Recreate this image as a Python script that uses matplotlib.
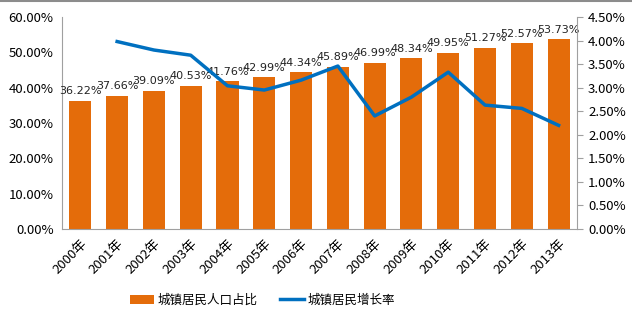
import numpy as np
import matplotlib
matplotlib.use("Agg")
import matplotlib.pyplot as plt
from matplotlib.lines import Line2D
from matplotlib.ticker import FuncFormatter

plt.rcParams['font.family'] = ['Noto Sans CJK SC', 'DejaVu Sans']

# data
years = ["2000年", "2001年", "2002年", "2003年", "2004年", "2005年", "2006年",
         "2007年", "2008年", "2009年", "2010年", "2011年", "2012年", "2013年"]
urban_share = [36.22, 37.66, 39.09, 40.53, 41.76, 42.99, 44.34,
               45.89, 46.99, 48.34, 49.95, 51.27, 52.57, 53.73]
growth_rate = [np.nan, 3.98, 3.80, 3.69, 3.04, 2.95, 3.16,
               3.46, 2.40, 2.80, 3.33, 2.63, 2.56, 2.20]

orange = "#E46C0A"
blue = "#0070C0"

fig = plt.figure(figsize=(6.32, 3.22), dpi=100)
# thin grey rule along the top edge
fig.add_artist(Line2D([0, 1], [0.997, 0.997], color="#8c8c8c", lw=1.5))
ax = fig.add_axes([0.098, 0.289, 0.815, 0.658])
x = np.arange(len(years))

bars = ax.bar(x, urban_share, width=0.6, color=orange, zorder=2)
for xi, v in zip(x, urban_share):
    ax.text(xi, v + 1.3, "%.2f%%" % v, ha="center", va="bottom", fontsize=8,
            family=["DejaVu Sans"], color="#222222")

ax.set_ylim(0, 60)
ax.set_yticks(np.arange(0, 61, 10))
ax.yaxis.set_major_formatter(FuncFormatter(lambda v, p: "%.2f%%" % v))
ax.set_xlim(-0.5, len(years) - 0.5)
ax.set_xticks(x)
ax.set_xticklabels(years, rotation=45, ha="right", rotation_mode="anchor", fontsize=9.5)
ax.tick_params(axis="x", length=0, pad=6)
ax.tick_params(axis="y", length=0, labelsize=9.5, pad=6)
for s in ["top", "right"]:
    ax.spines[s].set_visible(False)
ax.spines["left"].set_color("#a0a0a0")
ax.spines["bottom"].set_color("#a0a0a0")

ax2 = ax.twinx()
line, = ax2.plot(x, growth_rate, color=blue, lw=2.5, zorder=3)
ax2.set_ylim(0, 4.5)
ax2.set_yticks(np.arange(0, 4.51, 0.5))
ax2.yaxis.set_major_formatter(FuncFormatter(lambda v, p: "%.2f%%" % v))
ax2.tick_params(axis="y", length=4, color="#a0a0a0", labelsize=9.5, pad=4)
for s in ["top", "left", "bottom"]:
    ax2.spines[s].set_visible(False)
ax2.spines["right"].set_color("#a0a0a0")

fig.legend([bars, line], ["城镇居民人口占比", "城镇居民增长率"], loc="center",
           bbox_to_anchor=(0.415, 0.068), ncol=2, frameon=False, fontsize=9,
           handlelength=1.9, columnspacing=1.8, handletextpad=0.3)

fig.savefig("out.png", dpi=100)
